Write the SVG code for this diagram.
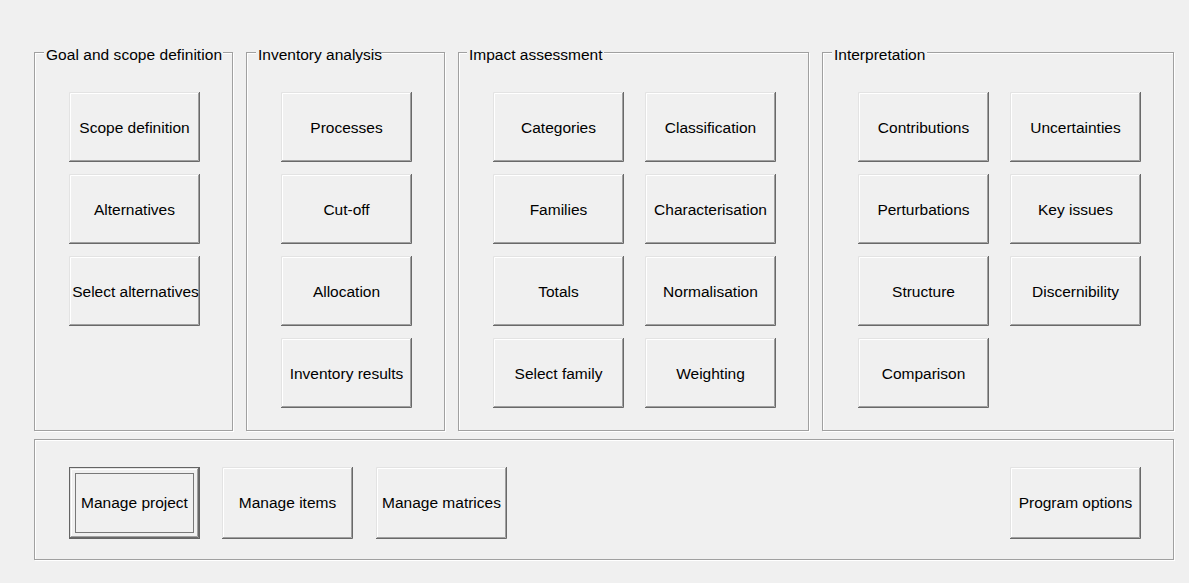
<svg xmlns="http://www.w3.org/2000/svg" xmlns:xlink="http://www.w3.org/1999/xlink" width="1189" height="583" viewBox="0 0 1189 583">
<style>
.t{font-family:"Liberation Sans",Arial,sans-serif;font-size:15.5px;fill:#000;text-anchor:middle}
.gl{font-family:"Liberation Sans",Arial,sans-serif;font-size:15.5px;fill:#000}
.eg{fill:none;stroke:#a0a0a0;stroke-width:1}
.ew{fill:none;stroke:#ffffff;stroke-width:1}
.gap{fill:#f0f0f0}
.face{fill:#f0f0f0}
.l1{fill:none;stroke:#e3e3e3}
.l2{fill:none;stroke:#ffffff}
.d1{fill:none;stroke:#a0a0a0}
.d2{fill:none;stroke:#696969}
.focus{fill:none;stroke:#000;stroke-dasharray:1 1}
</style>
<defs>
<symbol id="btn70" overflow="visible">
<rect class="face" x="0" y="0" width="131" height="70"/>
<path class="l1" d="M0.5 69V0.5H130"/>
<path class="l2" d="M1.5 68V1.5H129"/>
<path class="d1" d="M1 68.5H129.5V1"/>
<path class="d2" d="M0 69.5H130.5V0"/>
</symbol>
<symbol id="btn72" overflow="visible">
<rect class="face" x="0" y="0" width="131" height="72"/>
<path class="l1" d="M0.5 71V0.5H130"/>
<path class="l2" d="M1.5 70V1.5H129"/>
<path class="d1" d="M1 70.5H129.5V1"/>
<path class="d2" d="M0 71.5H130.5V0"/>
</symbol>
</defs>
<rect x="0" y="0" width="1189" height="583" fill="#f0f0f0"/>

<g id="frame-goal">
<rect class="ew" x="35.5" y="53.5" width="198" height="378"/>
<rect class="eg" x="34.5" y="52.5" width="198" height="378"/>
<rect class="gap" x="44" y="44" width="179" height="14"/>
<text class="gl" x="46" y="60" textLength="176" lengthAdjust="spacing">Goal and scope definition</text>
</g>
<g id="frame-inventory">
<rect class="ew" x="247.5" y="53.5" width="198" height="378"/>
<rect class="eg" x="246.5" y="52.5" width="198" height="378"/>
<rect class="gap" x="256" y="44" width="117" height="14"/>
<text class="gl" x="258" y="60">Inventory analysis</text>
</g>
<g id="frame-impact">
<rect class="ew" x="459.5" y="53.5" width="350" height="378"/>
<rect class="eg" x="458.5" y="52.5" width="350" height="378"/>
<rect class="gap" x="467" y="44" width="137" height="14"/>
<text class="gl" x="469" y="60">Impact assessment</text>
</g>
<g id="frame-interpretation">
<rect class="ew" x="823.5" y="53.5" width="351" height="378"/>
<rect class="eg" x="822.5" y="52.5" width="351" height="378"/>
<rect class="gap" x="832" y="44" width="95" height="14"/>
<text class="gl" x="834" y="60">Interpretation</text>
</g>
<g id="frame-bottom">
<rect class="ew" x="35.5" y="440.5" width="1139" height="120"/>
<rect class="eg" x="34.5" y="439.5" width="1139" height="120"/>
</g>

<g id="connectors"/>

<g id="btn-scope-definition"><use xlink:href="#btn70" x="69" y="92"/><text class="t" x="134.5" y="133">Scope definition</text></g>
<g id="btn-alternatives"><use xlink:href="#btn70" x="69" y="174"/><text class="t" x="134.5" y="215">Alternatives</text></g>
<g id="btn-select-alternatives"><use xlink:href="#btn70" x="69" y="256"/><text class="t" x="135.5" y="297">Select alternatives</text></g>

<g id="btn-processes"><use xlink:href="#btn70" x="281" y="92"/><text class="t" x="346.5" y="133">Processes</text></g>
<g id="btn-cut-off"><use xlink:href="#btn70" x="281" y="174"/><text class="t" x="346.5" y="215">Cut-off</text></g>
<g id="btn-allocation"><use xlink:href="#btn70" x="281" y="256"/><text class="t" x="346.5" y="297">Allocation</text></g>
<g id="btn-inventory-results"><use xlink:href="#btn70" x="281" y="338"/><text class="t" x="346.5" y="379">Inventory results</text></g>

<g id="btn-categories"><use xlink:href="#btn70" x="493" y="92"/><text class="t" x="558.5" y="133">Categories</text></g>
<g id="btn-families"><use xlink:href="#btn70" x="493" y="174"/><text class="t" x="558.5" y="215">Families</text></g>
<g id="btn-totals"><use xlink:href="#btn70" x="493" y="256"/><text class="t" x="558.5" y="297">Totals</text></g>
<g id="btn-select-family"><use xlink:href="#btn70" x="493" y="338"/><text class="t" x="558.5" y="379">Select family</text></g>

<g id="btn-classification"><use xlink:href="#btn70" x="645" y="92"/><text class="t" x="710.5" y="133">Classification</text></g>
<g id="btn-characterisation"><use xlink:href="#btn70" x="645" y="174"/><text class="t" x="710.5" y="215">Characterisation</text></g>
<g id="btn-normalisation"><use xlink:href="#btn70" x="645" y="256"/><text class="t" x="710.5" y="297">Normalisation</text></g>
<g id="btn-weighting"><use xlink:href="#btn70" x="645" y="338"/><text class="t" x="710.5" y="379">Weighting</text></g>

<g id="btn-contributions"><use xlink:href="#btn70" x="858" y="92"/><text class="t" x="923.5" y="133">Contributions</text></g>
<g id="btn-perturbations"><use xlink:href="#btn70" x="858" y="174"/><text class="t" x="923.5" y="215">Perturbations</text></g>
<g id="btn-structure"><use xlink:href="#btn70" x="858" y="256"/><text class="t" x="923.5" y="297">Structure</text></g>
<g id="btn-comparison"><use xlink:href="#btn70" x="858" y="338"/><text class="t" x="923.5" y="379">Comparison</text></g>

<g id="btn-uncertainties"><use xlink:href="#btn70" x="1010" y="92"/><text class="t" x="1075.5" y="133">Uncertainties</text></g>
<g id="btn-key-issues"><use xlink:href="#btn70" x="1010" y="174"/><text class="t" x="1075.5" y="215">Key issues</text></g>
<g id="btn-discernibility"><use xlink:href="#btn70" x="1010" y="256"/><text class="t" x="1075.5" y="297">Discernibility</text></g>

<g id="btn-manage-project">
<rect class="face" x="69" y="467" width="131" height="72"/>
<path class="l1" d="M70.5 537V468.5H198"/>
<path class="l2" d="M71.5 536V469.5H197"/>
<path class="d1" d="M71 536.5H197.5V469"/>
<path class="d2" d="M70 537.5H198.5V468"/>
<rect x="69.5" y="467.5" width="130" height="71" fill="none" stroke="#646464"/>
<rect class="focus" x="75.5" y="473.5" width="118" height="59"/>
<text class="t" x="134.5" y="508">Manage project</text>
</g>
<g id="btn-manage-items"><use xlink:href="#btn72" x="222" y="467"/><text class="t" x="287.5" y="508">Manage items</text></g>
<g id="btn-manage-matrices"><use xlink:href="#btn72" x="376" y="467"/><text class="t" x="441.5" y="508">Manage matrices</text></g>
<g id="btn-program-options"><use xlink:href="#btn72" x="1010" y="467"/><text class="t" x="1075.5" y="508">Program options</text></g>
</svg>
